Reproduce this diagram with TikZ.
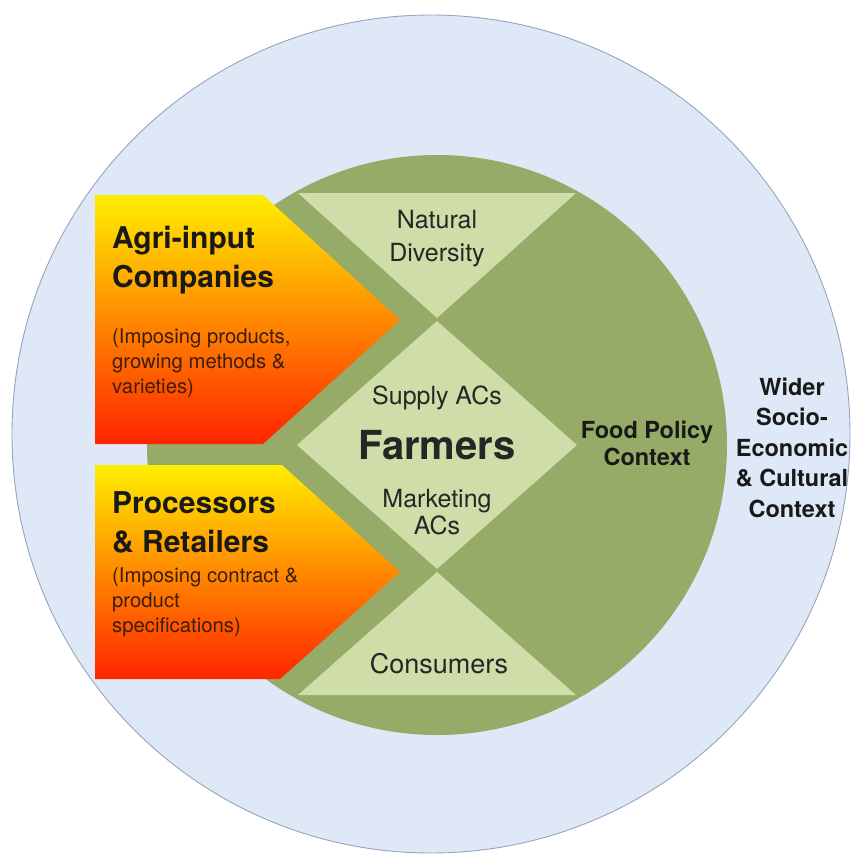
\documentclass[tikz,border=0pt]{standalone}
\usepackage{fontspec}
\setmainfont{TeX Gyre Heros}
\usepackage{tikz}

\definecolor{skyring}{RGB}{222,232,246}
\definecolor{ringedge}{RGB}{150,165,188}
\definecolor{policygreen}{RGB}{151,171,104}
\definecolor{palegreen}{RGB}{207,221,168}
\definecolor{heatyellow}{RGB}{255,238,0}
\definecolor{heatorange}{RGB}{255,160,0}
\definecolor{heatred}{RGB}{255,36,0}
\definecolor{notebrown}{RGB}{60,30,10}

\begin{document}
\begin{tikzpicture}[x=1pt, y=-1pt,
        wedge/.style={fill=palegreen},
        actor/.style={top color=heatyellow, middle color=heatorange, bottom color=heatred},
        label/.style={inner sep=0pt, align=center, text=black!85, font=\fontsize{25}{33}\selectfont},
        heading/.style={inner sep=0pt, anchor=west, align=left, text=black!90, font=\bfseries\fontsize{30}{39}\selectfont},
        note/.style={inner sep=0pt, anchor=west, align=left, text=notebrown, font=\fontsize{20.3}{25}\selectfont},
        context/.style={inner sep=0pt, align=center, text=black!90, font=\bfseries\fontsize{23.5}{30.5}\selectfont}]
        \useasboundingbox (0,0) rectangle (853,855);

        % the two context rings
        \draw[color=ringedge, fill=skyring, line width=0.9pt] (431,434) circle[radius=419];
        \fill[color=policygreen] (437,445) circle[radius=290];

        % hourglass round the farmers
        \fill[wedge] (298,193) -- (576,193) -- (437,318) -- cycle;
        \fill[wedge] (297,445) -- (437,321) -- (577,445) -- (437,569) -- cycle;
        \fill[wedge] (298,695) -- (576,695) -- (437,572) -- cycle;

        % pressure from the left
        \shade[actor] (95,195) -- (263,195) -- (400,320) -- (263,444) -- (95,444) -- cycle;
        \shade[actor] (95,465) -- (282,465) -- (400,572) -- (280,679) -- (95,679) -- cycle;

        \node[heading] (agri) at (112,260) {Agri-input\\Companies};
        \node[note] (agrinote) at (112,363) {(Imposing products,\\growing methods \&\\varieties)};
        \node[heading] (proc) at (112,522) {Processors\\\& Retailers};
        \node[note] (procnote) at (112,602) {(Imposing contract \&\\product\\specifications)};

        \node[label] (nature) at (437,239) {Natural\\Diversity};
        \node[label] (supply) at (437,398) {Supply ACs};
        \node[label, font=\bfseries\fontsize{40}{48}\selectfont] (farmers) at (437,445.5) {Farmers};
        \node[label, font=\fontsize{25}{27}\selectfont] (market) at (437,512.5) {Marketing\\ACs};
        \node[label, font=\fontsize{27}{30}\selectfont] (consumers) at (439,663.5) {Consumers};

        \node[context, font=\bfseries\fontsize{23.5}{27}\selectfont] (policy) at (647,443) {Food Policy\\Context};
        \node[context] (wider) at (792,447.5) {Wider\\Socio-\\Economic\\\& Cultural\\Context};
    \end{tikzpicture}
\end{document}
